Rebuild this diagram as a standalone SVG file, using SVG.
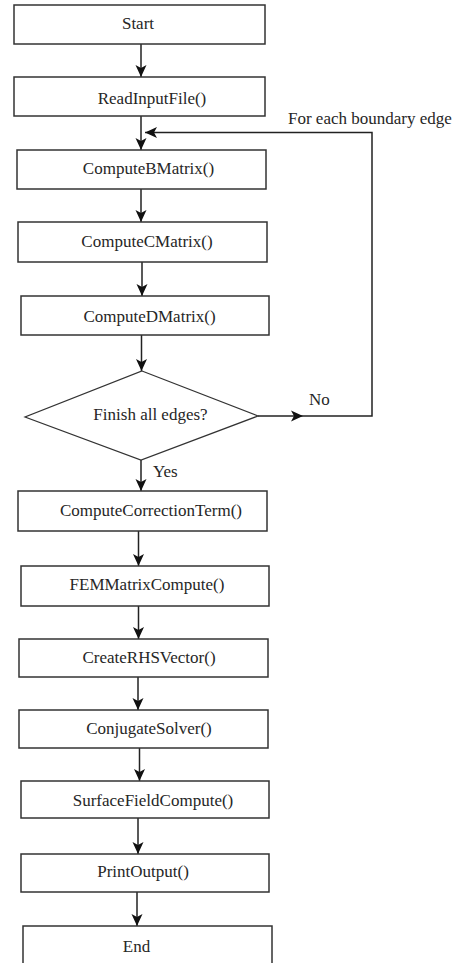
<svg xmlns="http://www.w3.org/2000/svg" width="463" height="963" viewBox="0 0 463 963">
<style>
.box{fill:#ffffff;stroke:#333333;stroke-width:1.5}
.dia{fill:#ffffff;stroke:#333333;stroke-width:1.2}
.lbl{text-anchor:middle}
.ann{text-anchor:start}
.con{fill:none;stroke:#222222;stroke-width:1.5;marker-end:url(#ah)}
</style>
<defs>
<marker id="ah" viewBox="0 0 12 12" refX="12" refY="6" markerWidth="12" markerHeight="12" markerUnits="userSpaceOnUse" orient="auto">
<path d="M0,0.5 L12,6 L0,11.5 L3,6 Z" fill="#111111"/>
</marker>
</defs>
<rect width="463" height="963" fill="#ffffff"/>
<g font-family="Liberation Serif, DejaVu Serif, serif" font-size="17" fill="#262626">
<g id="connectors">
<path class="con" d="M141,44 V77"/>
<path class="con" d="M141,116 V150"/>
<path class="con" d="M141,189 V222"/>
<path class="con" d="M142,262 V296"/>
<path class="con" d="M141.5,335 V371"/>
<path class="con" d="M141,460 V491"/>
<path class="con" d="M138.5,531 V566"/>
<path class="con" d="M138.5,606 V639"/>
<path class="con" d="M138,677 V710"/>
<path class="con" d="M139.5,748 V781"/>
<path class="con" d="M138,818 V854"/>
<path class="con" d="M137,892 V926"/>
<path class="con" d="M258,416 H303"/>
<path class="con" d="M303,416 H372 V132.5 H145"/>
<text class="ann" x="309" y="405">No</text>
<text class="ann" x="153" y="477">Yes</text>
<text class="ann" x="288" y="124">For each boundary edge</text>
</g>
<g id="start"><rect class="box" x="14" y="5" width="251" height="39"/><text class="lbl" x="138" y="29">Start</text></g>
<g id="readinput"><rect class="box" x="14" y="77" width="251" height="39"/><text class="lbl" x="152" y="103.5">ReadInputFile()</text></g>
<g id="bmatrix"><rect class="box" x="17" y="150" width="249" height="39"/><text class="lbl" x="148.5" y="173.5">ComputeBMatrix()</text></g>
<g id="cmatrix"><rect class="box" x="18" y="222" width="249" height="40"/><text class="lbl" x="147" y="247">ComputeCMatrix()</text></g>
<g id="dmatrix"><rect class="box" x="21" y="296" width="248" height="39"/><text class="lbl" x="149.5" y="321.5">ComputeDMatrix()</text></g>
<g id="decision"><polygon class="dia" points="142,371 258,416 141,460 25,417"/><text class="lbl" x="150.5" y="420">Finish all edges?</text></g>
<g id="correction"><rect class="box" x="18" y="491" width="249" height="40"/><text class="lbl" x="151" y="515.5">ComputeCorrectionTerm()</text></g>
<g id="fem"><rect class="box" x="21" y="566" width="248" height="40"/><text class="lbl" x="147" y="590">FEMMatrixCompute()</text></g>
<g id="rhs"><rect class="box" x="19" y="639" width="249" height="38"/><text class="lbl" x="149" y="663">CreateRHSVector()</text></g>
<g id="solver"><rect class="box" x="19" y="710" width="249" height="38"/><text class="lbl" x="149" y="734">ConjugateSolver()</text></g>
<g id="surface"><rect class="box" x="21" y="781" width="248" height="37"/><text class="lbl" x="153" y="806">SurfaceFieldCompute()</text></g>
<g id="print"><rect class="box" x="21" y="854" width="248" height="38"/><text class="lbl" x="143" y="877">PrintOutput()</text></g>
<g id="end"><rect class="box" x="23" y="926" width="249" height="50"/><text class="lbl" x="136.5" y="952">End</text></g>
</g>
</svg>
